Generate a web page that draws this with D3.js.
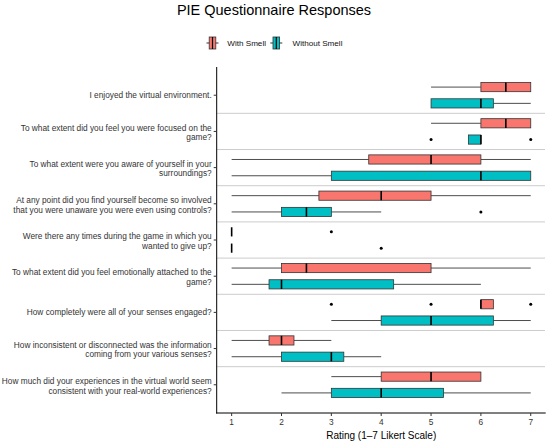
<!DOCTYPE html>
<html>
<head>
<meta charset="utf-8">
<script src="https://cdn.jsdelivr.net/npm/d3@7"></script>
<style>
  html, body { margin: 0; padding: 0; background: #fff; }
  svg { display: block; font-family: "Liberation Sans", Arial, sans-serif; }
</style>
</head>
<body>
<svg id="chart" width="550" height="442"></svg>
<script>
const questions = [
  "I enjoyed the virtual environment.",
  "To what extent did you feel you were focused on the\ngame?",
  "To what extent were you aware of yourself in your\nsurroundings?",
  "At any point did you find yourself become so involved\nthat you were unaware you were even using controls?",
  "Were there any times during the game in which you\nwanted to give up?",
  "To what extent did you feel emotionally attached to the\ngame?",
  "How completely were all of your senses engaged?",
  "How inconsistent or disconnected was the information\ncoming from your various senses?",
  "How much did your experiences in the virtual world seem\nconsistent with your real-world experiences?"
];
const seriesNames = ["With Smell", "Without Smell"];
const seriesColors = ["#F8766D", "#00BFC4"];

const withMin = [5, 5, 1, 1, 1, 1, 6, 1, 3];
const withQ1  = [6, 6, 3.75, 2.75, 1, 2, 6, 1.75, 4];
const withMed = [6.5, 6.5, 5, 4, 1, 2.5, 6, 2, 5];
const withQ3  = [7, 7, 6, 5, 1, 5, 6.25, 2.25, 6];
const withMax = [7, 7, 7, 7, 1, 7, 6.25, 3, 6];
const withOut = [[], [], [], [], [3], [], [3, 5, 7], [], []];

const withoutMin = [5, 5.75, 1, 1, 1, 1, 3, 1, 2];
const withoutQ1  = [5, 5.75, 3, 2, 1, 1.75, 4, 2, 3];
const withoutMed = [6, 6, 6, 2.5, 1, 2, 5, 3, 4];
const withoutQ3  = [6.25, 6, 7, 3, 1, 4.25, 6.25, 3.25, 5.25];
const withoutMax = [7, 6, 7, 4, 1, 6, 7, 4, 7];
const withoutOut = [[], [5, 7], [], [6], [4], [], [], [], []];

const xTicks = [1, 2, 3, 4, 5, 6, 7];
const titleText = "PIE Questionnaire Responses";
const xTitle = "Rating (1\u20137 Likert Scale)";

const series = [
  {min: withMin, q1: withQ1, med: withMed, q3: withQ3, max: withMax, out: withOut},
  {min: withoutMin, q1: withoutQ1, med: withoutMed, q3: withoutQ3, max: withoutMax, out: withoutOut}
];

const svg = d3.select("#chart");
const pLeft = 216.7, pRight = 545.7, pTop = 67, pBottom = 413;
const n = questions.length;

const x = d3.scaleLinear().domain([0.7, 7.3]).range([pLeft, pRight]);
const y = d3.scaleLinear().domain([-0.78, n - 1 + 0.78]).range([pTop, pBottom]);
const dodge = 0.225, halfH = 0.127;
const offsets = [-dodge, dodge];

// title
svg.append("text").attr("x", 274).attr("y", 15.3).attr("text-anchor", "middle")
  .attr("font-size", 14.5).attr("fill", "#000").text(titleText);

// legend
const legendKeys = [206.5, 270.3];
const legendTextX = [227.3, 292.5];
const ly = 43;
seriesNames.forEach((name, i) => {
  const g = svg.append("g");
  const kx = legendKeys[i];
  g.append("line").attr("x1", kx).attr("x2", kx + 12).attr("y1", ly).attr("y2", ly)
    .attr("stroke", "#333").attr("stroke-width", 1);
  g.append("rect").attr("x", kx + 2.7).attr("y", ly - 6).attr("width", 6.6).attr("height", 12)
    .attr("fill", seriesColors[i]).attr("stroke", "#333").attr("stroke-width", 0.8);
  g.append("line").attr("x1", kx + 6).attr("x2", kx + 6).attr("y1", ly - 6).attr("y2", ly + 6)
    .attr("stroke", "#000").attr("stroke-width", 1.2);
  g.append("text").attr("x", legendTextX[i]).attr("y", ly + 3).attr("font-size", 8.1)
    .attr("fill", "#111").text(name);
});

// separators
d3.range(n - 1).forEach(i => {
  svg.append("line").attr("x1", pLeft).attr("x2", pRight - 0.7)
    .attr("y1", y(i + 0.5)).attr("y2", y(i + 0.5))
    .attr("stroke", "#cccccc").attr("stroke-width", 1);
});

// boxes
series.forEach((s, si) => {
  const g = svg.append("g");
  questions.forEach((q, i) => {
    const cy = y(i + offsets[si]);
    const h = y(halfH) - y(0);
    if (s.min[i] < s.q1[i]) g.append("line").attr("x1", x(s.min[i])).attr("x2", x(s.q1[i]))
      .attr("y1", cy).attr("y2", cy).attr("stroke", "#4d4d4d").attr("stroke-width", 1);
    if (s.max[i] > s.q3[i]) g.append("line").attr("x1", x(s.q3[i])).attr("x2", x(s.max[i]))
      .attr("y1", cy).attr("y2", cy).attr("stroke", "#4d4d4d").attr("stroke-width", 1);
    g.append("rect").attr("x", x(s.q1[i])).attr("y", cy - h)
      .attr("width", x(s.q3[i]) - x(s.q1[i])).attr("height", 2 * h)
      .attr("fill", seriesColors[si]).attr("stroke", "#333").attr("stroke-width", 0.8);
    g.append("line").attr("x1", x(s.med[i])).attr("x2", x(s.med[i]))
      .attr("y1", cy - h).attr("y2", cy + h).attr("stroke", "#000").attr("stroke-width", 1.6);
    s.out[i].forEach(v => {
      g.append("circle").attr("cx", x(v)).attr("cy", cy).attr("r", 1.5).attr("fill", "#000");
    });
  });
});

// axes lines
svg.append("line").attr("x1", pLeft).attr("x2", pLeft).attr("y1", pTop).attr("y2", pBottom + 0.5)
  .attr("stroke", "#000").attr("stroke-width", 1);
svg.append("line").attr("x1", pLeft - 0.5).attr("x2", pRight).attr("y1", pBottom).attr("y2", pBottom)
  .attr("stroke", "#000").attr("stroke-width", 1);

// x ticks
xTicks.forEach(t => {
  svg.append("line").attr("x1", x(t)).attr("x2", x(t)).attr("y1", pBottom).attr("y2", pBottom + 3)
    .attr("stroke", "#333").attr("stroke-width", 1);
  svg.append("text").attr("x", x(t)).attr("y", pBottom + 12).attr("text-anchor", "middle")
    .attr("font-size", 8.3).attr("fill", "#333").text(t);
});
svg.append("text").attr("x", (pLeft + pRight) / 2).attr("y", 438.5).attr("text-anchor", "middle")
  .attr("font-size", 10).attr("fill", "#000").text(xTitle);

// y ticks & labels
questions.forEach((q, i) => {
  const cy = y(i);
  svg.append("line").attr("x1", pLeft - 3).attr("x2", pLeft).attr("y1", cy).attr("y2", cy)
    .attr("stroke", "#333").attr("stroke-width", 1);
  const lines = q.split("\n");
  const lh = 9.5;
  const t = svg.append("text").attr("text-anchor", "end").attr("font-size", 8.3).attr("fill", "#333");
  lines.forEach((ln, k) => {
    t.append("tspan").attr("x", pLeft - 5)
      .attr("y", cy + 3 + (k - (lines.length - 1) / 2) * lh + (lines.length > 1 ? 1 : 0))
      .text(ln);
  });
});
</script>
</body>
</html>
